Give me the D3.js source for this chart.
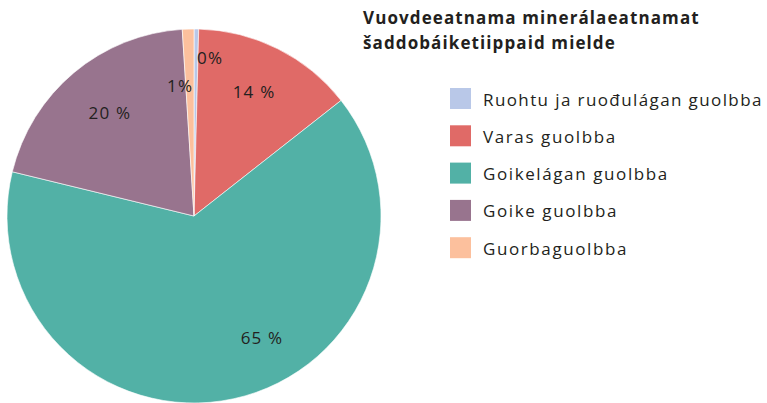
<!DOCTYPE html>
<html>
<head>
<meta charset="utf-8">
<script src="https://cdn.jsdelivr.net/npm/d3@7"></script>
<style>
  html, body { margin: 0; padding: 0; background: #fff; }
  svg { display: block; font-family: "Open Sans", "Noto Sans", sans-serif; }
</style>
</head>
<body>
<svg id="chart" width="767" height="403"></svg>
<script>
// data
const categories = [
  "Ruohtu ja ruođulágan guolbba",
  "Varas guolbba",
  "Goikelágan guolbba",
  "Goike guolbba",
  "Guorbaguolbba"
];
const values = [0.4, 14.0, 64.4, 20.2, 1.0];
const labels = ["0%", "14 %", "65 %", "20 %", "1%"];
const titleLines = ["Vuovdeeatnama minerálaeatnamat", "šaddobáiketiippaid mielde"];

const colors = ["#b9c8e8", "#e06a67", "#52b1a6", "#98748e", "#fcc09d"];
// where each slice label sits (degrees clockwise from top, distance from centre)
const labelSpots = [[5.8, 159], [25.8, 138], [150.7, 139], [320.8, 133], [353.9, 131]];

const svg = d3.select("#chart");
const cx = 194, cy = 216, radius = 187;

const pie = d3.pie().sort(null).value(d => d);
const arcs = pie(values);
const arc = d3.arc().innerRadius(0).outerRadius(radius);

const g = svg.append("g").attr("transform", `translate(${cx},${cy})`);

g.selectAll("path.slice")
  .data(arcs)
  .enter()
  .append("path")
  .attr("class", "slice")
  .attr("d", arc)
  .attr("fill", (d, i) => colors[i])
  .attr("stroke", "#fff")
  .attr("stroke-width", 0.6);

g.selectAll("text.lbl")
  .data(arcs)
  .enter()
  .append("text")
  .attr("class", "lbl")
  .attr("x", (d, i) => Math.sin(labelSpots[i][0] * Math.PI / 180) * labelSpots[i][1])
  .attr("y", (d, i) => -Math.cos(labelSpots[i][0] * Math.PI / 180) * labelSpots[i][1])
  .attr("text-anchor", "middle")
  .attr("dominant-baseline", "central")
  .attr("font-size", 17)
  .attr("letter-spacing", 1.2)
  .attr("fill", "#231f20")
  .text((d, i) => labels[i]);

// title
svg.append("g")
  .selectAll("text")
  .data(titleLines)
  .enter()
  .append("text")
  .attr("x", 363)
  .attr("y", (d, i) => 24 + i * 25)
  .attr("font-size", 17)
  .attr("font-weight", "bold")
  .attr("letter-spacing", 1.1)
  .attr("fill", "#231f20")
  .text(d => d);

// legend
const legend = svg.append("g").attr("transform", "translate(450,88)");
const rows = legend.selectAll("g")
  .data(categories)
  .enter()
  .append("g")
  .attr("transform", (d, i) => `translate(0,${i * 37.3})`);

rows.append("rect")
  .attr("width", 21)
  .attr("height", 21)
  .attr("fill", (d, i) => colors[i]);

rows.append("text")
  .attr("x", 33)
  .attr("y", 11)
  .attr("dominant-baseline", "central")
  .attr("font-size", 17)
  .attr("letter-spacing", 1.6)
  .attr("fill", "#231f20")
  .text(d => d)
  .each(function () {
    // keep the long entry inside the frame
    if (this.getComputedTextLength() > 280) {
      d3.select(this).attr("textLength", 280).attr("lengthAdjust", "spacing");
    }
  });
</script>
</body>
</html>
